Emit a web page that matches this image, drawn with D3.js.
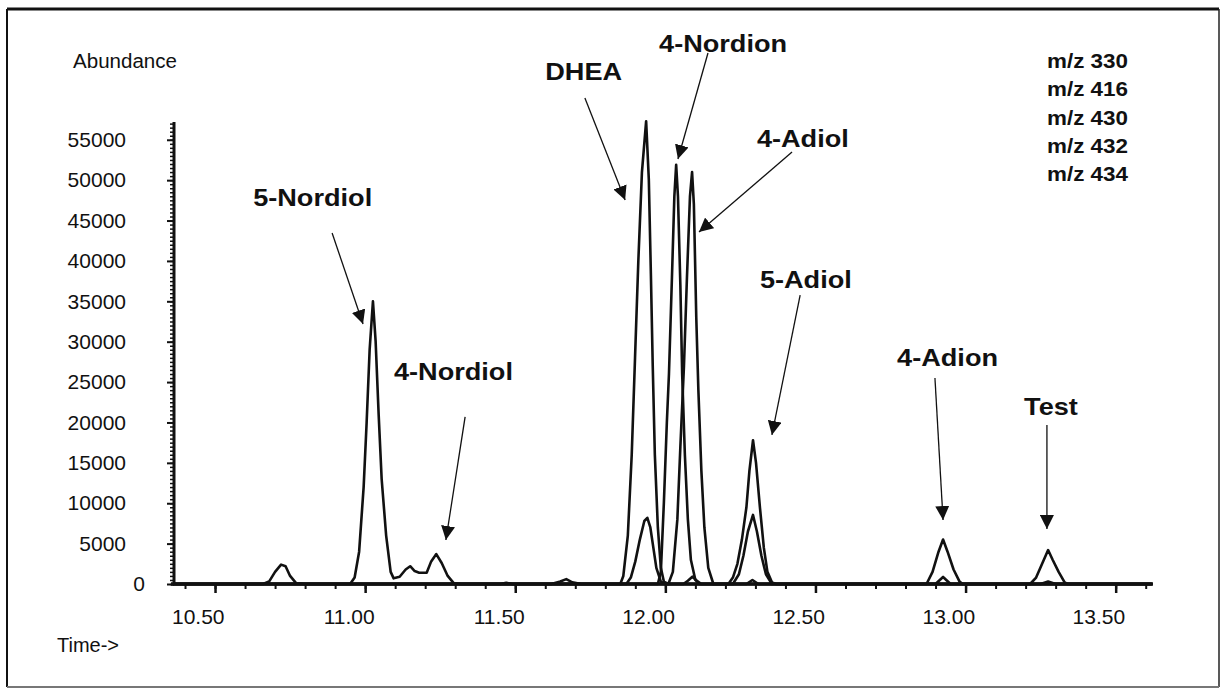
<!DOCTYPE html>
<html><head><meta charset="utf-8">
<script src="https://cdn.jsdelivr.net/npm/d3@7/dist/d3.min.js"></script>
<style>
html,body{margin:0;padding:0;background:#fff;}
svg{display:block;}
text{font-family:"Liberation Sans",Arial,sans-serif;fill:#111;}
</style></head><body>
<svg id="c" width="1224" height="689"></svg>
<script>
// ---- data (time in min, abundance) ----
const seriesNames = ["m/z 330","m/z 416","m/z 430","m/z 432","m/z 434"];
const mz330 = [[10.36,0],[10.66,0],[10.68,300],[10.70,1500],[10.72,2400],[10.735,2200],[10.75,1000],[10.77,100],[10.80,0],
  [10.95,0],[10.965,800],[10.98,4000],[10.995,12000],[11.005,20000],[11.015,29000],[11.026,35000],[11.035,30000],[11.045,21000],
  [11.055,13000],[11.07,6000],[11.085,1500],[11.095,700],[11.115,900],[11.135,1800],[11.15,2200],[11.165,1600],[11.18,1400],
  [11.205,1400],[11.22,2800],[11.237,3700],[11.255,2600],[11.275,1000],[11.295,100],[11.32,0],[13.62,0]];
const mz416 = [[10.36,0],[11.45,0],[11.47,150],[11.49,0],[11.62,0],[11.65,300],[11.67,600],[11.69,200],[11.72,0],
  [11.975,0],[11.985,1500],[11.995,10000],[12.005,20000],[12.012,26000],[12.022,38000],[12.03,48000],[12.036,51900],
  [12.042,48000],[12.05,37000],[12.056,26000],[12.065,16000],[12.075,8000],[12.085,3000],[12.10,500],[12.115,0],[13.62,0]];
const mz430 = [[10.36,0],[11.87,0],[11.885,800],[11.90,2800],[11.915,5500],[11.93,7800],[11.94,8200],[11.95,7000],[11.96,4500],
  [11.97,2000],[11.985,300],[12.0,0],[12.06,0],[12.075,400],[12.09,900],[12.105,400],[12.12,0],[12.27,0],[12.29,500],[12.31,0],
  [12.87,0],[12.89,1500],[12.91,4000],[12.925,5500],[12.94,4000],[12.96,1800],[12.98,300],[12.99,0],
  [13.25,0],[13.275,300],[13.30,0],[13.62,0]];
const mz432 = [[10.36,0],[11.85,0],[11.86,1000],[11.875,6000],[11.888,16000],[11.899,28000],[11.91,40000],[11.922,51000],
  [11.936,57300],[11.945,50000],[11.952,38000],[11.958,27000],[11.965,16000],[11.975,7000],[11.985,2000],[11.995,300],[12.01,0],
  [12.225,0],[12.245,1200],[12.26,3500],[12.275,6500],[12.292,8550],[12.305,6500],[12.32,3500],[12.335,1200],[12.355,0],
  [12.90,0],[12.925,870],[12.95,0],
  [13.215,0],[13.235,800],[13.255,2500],[13.275,4200],[13.29,3000],[13.31,1500],[13.33,200],[13.34,0],[13.62,0]];
const mz434 = [[10.36,0],[12.01,0],[12.025,1500],[12.04,8000],[12.05,17000],[12.062,27000],[12.072,38000],[12.082,48000],
  [12.089,51000],[12.095,47000],[12.103,33000],[12.11,24000],[12.12,14000],[12.13,7000],[12.143,2000],[12.16,0],
  [12.21,0],[12.225,800],[12.24,2500],[12.255,5500],[12.27,9500],[12.28,14000],[12.292,17800],[12.302,15000],[12.315,9500],
  [12.328,4500],[12.34,1500],[12.355,200],[12.37,0],[13.62,0]];
const traces = [mz330, mz416, mz430, mz432, mz434];

const xTicks = [10.5, 11.0, 11.5, 12.0, 12.5, 13.0, 13.5];
const xTickLabels = ["10.50","11.00","11.50","12.00","12.50","13.00","13.50"];
const yTicks = [0,5000,10000,15000,20000,25000,30000,35000,40000,45000,50000,55000];

// annotations: name, label anchor (time, abundance), arrow start/end (time, abundance)
const peakNames = ["5-Nordiol","4-Nordiol","DHEA","4-Nordion","4-Adiol","5-Adiol","4-Adion","Test"];
const labelPos = [[10.627,46800],[11.096,25250],[11.60,62400],[11.979,65850],[12.305,54100],[12.315,36650],[12.772,26990],[13.195,20920]];
const arrowFrom = [[10.89,43450],[11.333,20680],[11.732,60170],[12.142,65740],[12.422,53490],[12.449,35780],[12.898,25500],[13.271,19690]];
const arrowTo = [[10.993,32190],[11.269,5450],[11.866,47540],[12.042,52620],[12.112,43580],[12.355,18450],[12.925,7920],[13.271,6810]];

// ---- drawing ----
const svg = d3.select("#c");
const x = d3.scaleLinear().domain([10.36, 13.621]).range([173, 1152]);
const y = d3.scaleLinear().domain([0, 57200]).range([584, 122]);

// frame
svg.append("line").attr("x1",7).attr("x2",1219).attr("y1",9).attr("y2",9).attr("stroke","#111").attr("stroke-width",3);
svg.append("line").attr("x1",7).attr("x2",7).attr("y1",9).attr("y2",687).attr("stroke","#111").attr("stroke-width",2);
svg.append("line").attr("x1",1219).attr("x2",1219).attr("y1",9).attr("y2",687).attr("stroke","#222").attr("stroke-width",1.5);
svg.append("line").attr("x1",7).attr("x2",1219).attr("y1",687).attr("y2",687).attr("stroke","#777").attr("stroke-width",2);

// y axis minor ticks
const yMinor = d3.range(0, 57001, 500);
svg.append("g").attr("transform","translate(174,0)")
  .call(d3.axisLeft(y).tickValues(yMinor).tickSize(4).tickFormat(""))
  .call(g=>g.select(".domain").remove())
  .call(g=>g.selectAll("line").attr("stroke","#111").attr("stroke-width",1.5));
// y axis major
const gy = svg.append("g").attr("transform","translate(174,0)")
  .call(d3.axisLeft(y).tickValues(yTicks).tickSizeInner(7).tickSizeOuter(0).tickPadding(41).tickFormat(d=>String(d)));
gy.select(".domain").attr("stroke","#111").attr("stroke-width",3).attr("d","M0,"+y(57200)+"V"+y(0));
gy.selectAll("line").attr("stroke","#111").attr("stroke-width",2);
gy.selectAll("text").attr("font-size",21).style("font-family",'"Liberation Sans",Arial,sans-serif').attr("fill","#111")
  .attr("dx", d=> d===0 ? 19 : 0);

// x axis minor ticks
const xMinor = d3.range(104, 137).map(v=>v/10);
svg.append("g").attr("transform","translate(0,584)")
  .call(d3.axisBottom(x).tickValues(xMinor).tickSize(5).tickFormat(""))
  .call(g=>g.select(".domain").remove())
  .call(g=>g.selectAll("line").attr("stroke","#111").attr("stroke-width",2));
const gx = svg.append("g").attr("transform","translate(0,584)")
  .call(d3.axisBottom(x).tickValues(xTicks).tickSizeInner(9).tickSizeOuter(0).tickPadding(16)
    .tickFormat((d,i)=>xTickLabels[i]));
gx.select(".domain").attr("stroke","#111").attr("stroke-width",3.5).attr("d","M171,0H1153");
gx.selectAll("line").attr("stroke","#111").attr("stroke-width",2.5);
gx.selectAll("text").attr("font-size",21).attr("text-anchor","end").attr("dx",9).attr("fill","#111")
  .style("font-family",'"Liberation Sans",Arial,sans-serif');

// traces
const line = d3.line().x(d=>x(d[0])).y(d=>y(d[1]));
svg.append("g").selectAll("path").data(traces).join("path")
  .attr("d", line).attr("fill","none").attr("stroke","#111").attr("stroke-width",2.6)
  .attr("stroke-linejoin","round");

// axis titles
svg.append("text").attr("x",73).attr("y",68).attr("font-size",20).attr("textLength",104).attr("lengthAdjust","spacingAndGlyphs").text("Abundance");
svg.append("text").attr("x",57).attr("y",652).attr("font-size",20).text("Time->");

// legend of ions
svg.append("g").selectAll("text").data(seriesNames).join("text")
  .attr("x",1047).attr("y",(d,i)=>68+i*28.3).attr("font-size",20).attr("font-weight","bold")
  .attr("textLength",81).attr("lengthAdjust","spacingAndGlyphs").text(d=>d);

// arrows
const defs = svg.append("defs");
defs.append("marker").attr("id","ah").attr("viewBox","0 0 10 10").attr("refX",10).attr("refY",5)
  .attr("markerWidth",14).attr("markerHeight",14).attr("markerUnits","userSpaceOnUse").attr("orient","auto")
  .append("path").attr("d","M0,0L10,5L0,10Z").attr("fill","#111");
svg.append("g").selectAll("line").data(peakNames).join("line")
  .attr("x1",(d,i)=>x(arrowFrom[i][0])).attr("y1",(d,i)=>y(arrowFrom[i][1]))
  .attr("x2",(d,i)=>x(arrowTo[i][0])).attr("y2",(d,i)=>y(arrowTo[i][1]))
  .attr("stroke","#111").attr("stroke-width",1.3).attr("marker-end","url(#ah)");

// peak labels (slightly wide bold face as in the scan)
svg.append("g").selectAll("text").data(peakNames).join("text")
  .attr("x",(d,i)=>x(labelPos[i][0])).attr("y",(d,i)=>y(labelPos[i][1]))
  .attr("font-size",24).attr("font-weight","bold").text(d=>d)
  .each(function(){ const w=this.getComputedTextLength(); d3.select(this).attr("textLength",w*1.13).attr("lengthAdjust","spacingAndGlyphs"); });
</script>
</body></html>
